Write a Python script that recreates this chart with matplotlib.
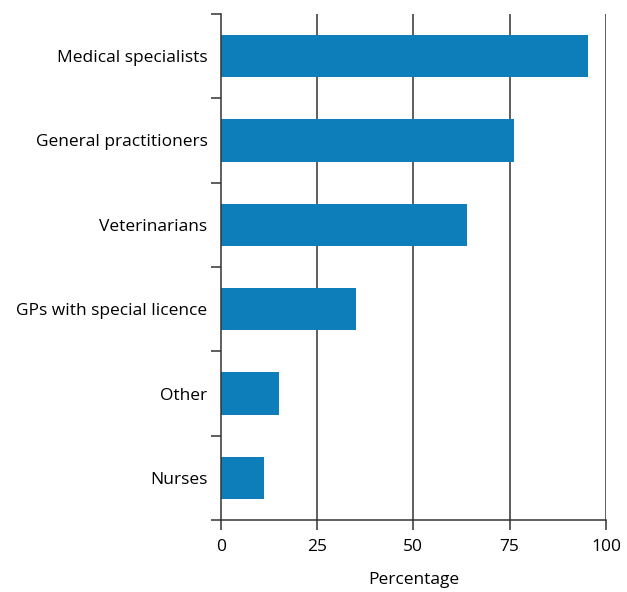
import numpy as np
import matplotlib
matplotlib.use("Agg")
import matplotlib.pyplot as plt

# Data
categories = ["Medical specialists", "General practitioners", "Veterinarians",
              "GPs with special licence", "Other", "Nurses"]
values = [95.2, 76.1, 63.8, 35.2, 15.1, 11.3]
xticks = [0, 25, 50, 75, 100]

plt.rcParams["font.family"] = ["Open Sans", "DejaVu Sans"]

fig = plt.figure(figsize=(6.27, 5.92), dpi=100)
ax = fig.add_axes([0.352, 0.1216, 0.6145, 0.8548])

ypos = np.arange(len(categories))[::-1]
ax.barh(ypos, values, height=0.5, color="#0e7ebb", zorder=3)

# vertical grid lines
for t in xticks[1:]:
    ax.axvline(t, color="#333333", linewidth=1.1, zorder=1)

ax.set_xlim(0, 100)
ax.set_ylim(-0.5, len(categories) - 0.5)
ax.set_xticks(xticks)
ax.set_xticklabels([str(t) for t in xticks], fontsize=12.5)

# category labels at bar centres, tick marks at boundaries
ax.set_yticks(ypos)
ax.set_yticklabels(categories, fontsize=12.5)
ax.tick_params(axis="y", which="major", length=0, pad=9.5)
ax.set_yticks(np.arange(-0.5, len(categories)), minor=True)
ax.tick_params(axis="y", which="minor", length=7, width=1.1, color="#333333")
ax.tick_params(axis="x", length=7, width=1.1, color="#333333", pad=7)

for s in ["top", "right"]:
    ax.spines[s].set_visible(False)
for s in ["left", "bottom"]:
    ax.spines[s].set_color("#333333")
    ax.spines[s].set_linewidth(1.1)
    ax.spines[s].set_zorder(4)

ax.set_xlabel("Percentage", fontsize=12.5, labelpad=12)

fig.savefig("out.png", dpi=100)
plt.close(fig)
